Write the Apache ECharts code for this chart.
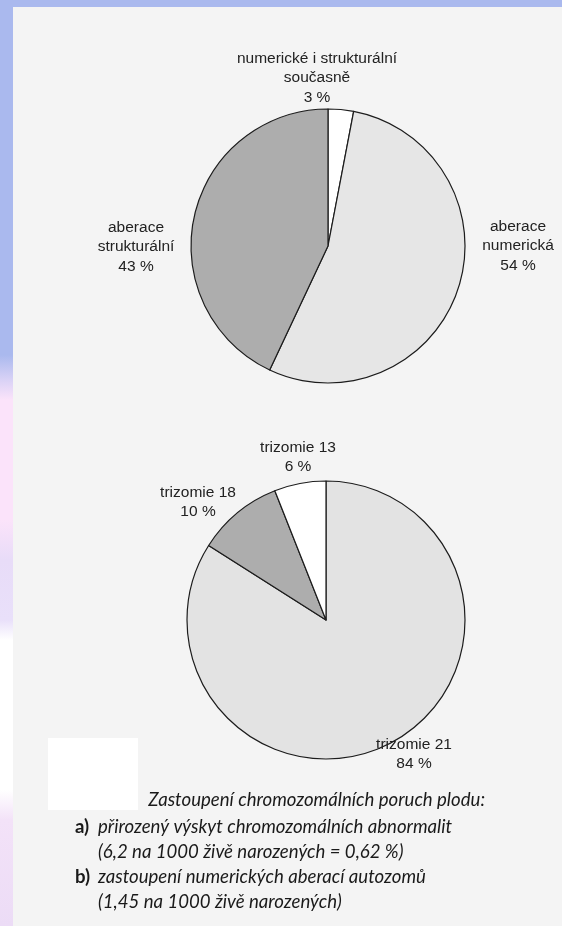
<!DOCTYPE html>
<html>
<head>
<meta charset="utf-8">
<script src="https://cdn.jsdelivr.net/npm/echarts@6/dist/echarts.min.js"></script>
<style>
  html, body { margin: 0; padding: 0; }
  body {
    width: 562px; height: 926px; overflow: hidden;
    background: linear-gradient(to bottom,
      #aab9ee 0px, #aab9ee 355px, #d9d2f6 380px, #fbe3fa 400px, #fbe3fa 520px,
      #e8dcf8 560px, #e9e0fa 620px, #ffffff 640px, #ffffff 790px, #f3e2f8 820px, #ecdcf6 926px);
  }
  #chart { position: absolute; left: 0; top: 0; width: 562px; height: 926px; }
</style>
</head>
<body>
<div id="chart"></div>
<script>
// a) prirozeny vyskyt chromozomalnich abnormalit
var namesA = ['numerické i strukturální\nsoučasně', 'aberace\nnumerická', 'aberace\nstrukturální'];
var valuesA = [3, 54, 43];
// b) zastoupeni numerickych aberaci autozomu
var namesB = ['trizomie 21', 'trizomie 18', 'trizomie 13'];
var valuesB = [84, 10, 6];

var captionLines = [
    'Zastoupení chromozomálních poruch plodu:',
    'přirozený výskyt chromozomálních abnormalit',
    '(6,2 na 1000 živě narozených = 0,62 %)',
    'zastoupení numerických aberací autozomů',
    '(1,45 na 1000 živě narozených)'
];

// label anchor points (text centres)
var labelPosA = [[317, 78], [518, 246], [136, 247]];
var labelPosB = [[414, 754], [198, 502], [298, 457]];

var fillsA = ['#ffffff', '#e6e6e6', '#adadad'];
var fillsB = ['#e3e3e3', '#adadad', '#ffffff'];

function buildData(names, values, fills) {
    return values.map(function (v, i) {
        return { name: names[i], value: v, itemStyle: { color: fills[i] } };
    });
}

function pieSeries(names, values, fills, center, radius, labelPos) {
    return {
        type: 'pie',
        center: center,
        radius: radius,
        startAngle: 90,
        clockwise: true,
        silent: true,
        animation: false,
        itemStyle: { borderColor: '#1c1c1c', borderWidth: 1.2 },
        label: {
            show: true,
            position: 'outside',
            formatter: '{b}\n{c} %',
            fontFamily: 'Liberation Sans',
            fontSize: 15.5,
            lineHeight: 19.5,
            color: '#222',
            align: 'center',
            overflow: 'none'
        },
        labelLine: { show: false },
        labelLayout: function (params) {
            var p = labelPos[params.dataIndex];
            return { x: p[0], y: p[1], align: 'center', verticalAlign: 'middle', width: 200 };
        },
        data: buildData(names, values, fills)
    };
}

var capFont = 'Lato';
var capStyle = { fontFamily: capFont, fontStyle: 'italic', fontSize: 18.6, fill: '#1a1a1a' };

var option = {
    backgroundColor: 'transparent',
    graphic: [
        { type: 'rect', z: -10, shape: { x: 13, y: 7, width: 549, height: 919 }, style: { fill: '#f4f4f4' } },
        { type: 'rect', z: -9, shape: { x: 48, y: 738, width: 90, height: 72 }, style: { fill: '#ffffff' } },
        { type: 'text', x: 485, y: 800, style: Object.assign({ text: captionLines[0], align: 'right', verticalAlign: 'middle' }, capStyle) },
        { type: 'text', x: 75, y: 827, style: { text: 'a)', fontFamily: capFont, fontWeight: 'bold', fontSize: 18.6, fill: '#1a1a1a', verticalAlign: 'middle' } },
        { type: 'text', x: 98, y: 827, style: Object.assign({ text: captionLines[1], verticalAlign: 'middle' }, capStyle) },
        { type: 'text', x: 98, y: 852, style: Object.assign({ text: captionLines[2], verticalAlign: 'middle' }, capStyle) },
        { type: 'text', x: 75, y: 877, style: { text: 'b)', fontFamily: capFont, fontWeight: 'bold', fontSize: 18.6, fill: '#1a1a1a', verticalAlign: 'middle' } },
        { type: 'text', x: 98, y: 877, style: Object.assign({ text: captionLines[3], verticalAlign: 'middle' }, capStyle) },
        { type: 'text', x: 98, y: 902, style: Object.assign({ text: captionLines[4], verticalAlign: 'middle' }, capStyle) }
    ],
    series: [
        pieSeries(namesA, valuesA, fillsA, [328, 246], 137, labelPosA),
        pieSeries(namesB, valuesB, fillsB, [326, 620], 139, labelPosB)
    ]
};

var chart = echarts.init(document.getElementById('chart'), null, { renderer: 'canvas' });
chart.setOption(option);
</script>
</body>
</html>
